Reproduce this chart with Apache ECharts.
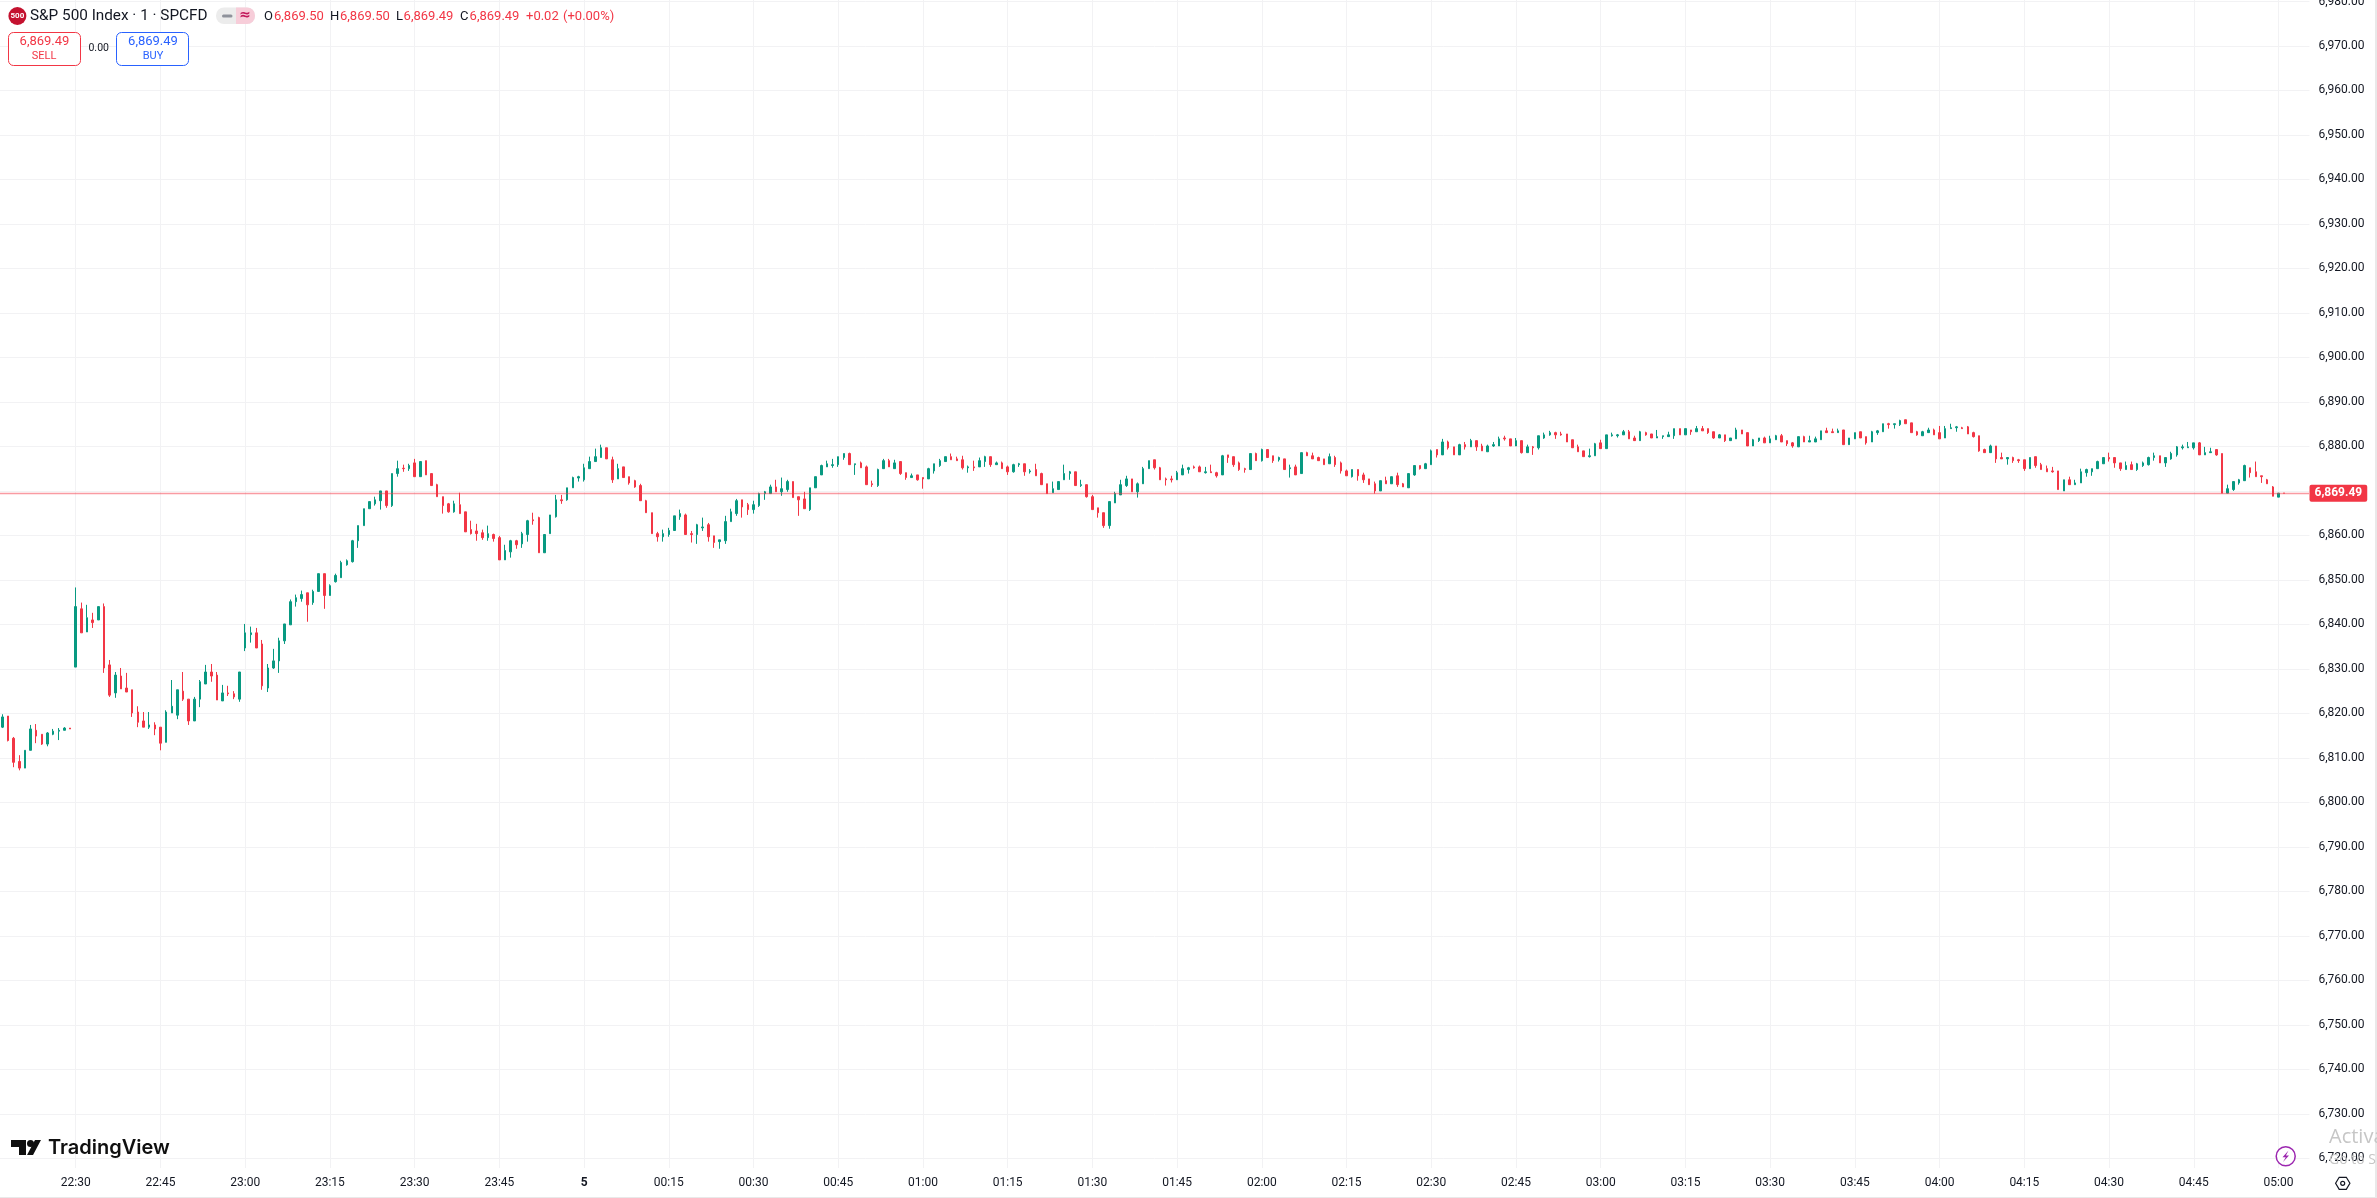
<!DOCTYPE html>
<html>
<head>
<meta charset="utf-8">
<title>S&amp;P 500 Index</title>
<style>html,body{margin:0;padding:0;background:#fff;overflow:hidden}#chart{width:2377px;height:1198px}</style>
<script src="https://cdn.jsdelivr.net/npm/echarts@6/dist/echarts.min.js"></script>
</head>
<body>
<div id="chart"></div>
<script>
const opens = [
6816.9,6819.4,6814.4,6809.2,6807.7,6811.7,6816.2,6815.3,6813.1,6815.3,
6816,6816.2,6816.7,6830.4,6843.5,6838.3,6841,6841,6844,6830.9,
6824.6,6828.4,6825.7,6825.3,6820.3,6818.3,6816.9,6817.4,6816.9,6813.5,
6820.1,6819.6,6825,6823.2,6818.3,6823.2,6826.6,6829.3,6828.6,6822.8,
6824.6,6824.4,6823.2,6834.7,6837.7,6838.1,6835.6,6825.7,6830.2,6831.8,
6836.3,6839.9,6845.1,6845.8,6847.1,6844.9,6847.4,6851.4,6846.5,6849.6,
6850.5,6853.4,6854.1,6858.8,6862.2,6866,6867.1,6867.8,6870,6866.7,
6873.9,6875.1,6875,6876.3,6873.2,6876.8,6873.9,6871.4,6868.7,6867.1,
6865.3,6866.9,6865.3,6861.3,6861,6860.6,6859.5,6860.2,6859.5,6854.5,
6856.3,6858.8,6858.1,6860.2,6863.5,6864,6856.1,6860.4,6864.2,6868,
6868,6870.7,6872.9,6872.5,6875,6876.6,6877.5,6879.7,6877,6872.7,
6875.4,6873.2,6872.3,6871.2,6867.8,6865.1,6860.4,6859.7,6860.2,6861.1,
6864.2,6864.6,6860.4,6860.2,6861.7,6862.4,6859.9,6858.6,6858.8,6863.1,
6864.9,6868,6866.9,6865.8,6866.7,6869.4,6869.4,6870.9,6869.8,6870.3,
6872.1,6868.7,6868.2,6865.8,6870.7,6873.6,6875.4,6875.7,6875.9,6877.5,
6878.4,6875.9,6876.3,6875.4,6871.6,6871.2,6875,6876.8,6875,6876.6,
6874.1,6873,6873.6,6873,6872.7,6874.5,6875.7,6876.6,6877.7,6877.2,
6877,6875.2,6875.4,6875.4,6876.6,6877.7,6875.9,6876.3,6875.4,6874.3,
6875.9,6876.1,6874.3,6874.8,6873.9,6871.6,6869.6,6870.3,6872.5,6873.9,
6874.3,6871.2,6871.4,6868.7,6866.2,6865.1,6862.2,6867.3,6869.1,6871.2,
6872.7,6869.8,6871.6,6875,6877,6875.2,6872.7,6872.7,6872.5,6873.6,
6874.8,6875.4,6875.4,6874.1,6874.3,6874.1,6873.6,6878.1,6877.7,6876.3,
6875,6874.8,6878.4,6876.8,6879.3,6877.9,6877,6877.2,6875,6875.4,
6873.9,6878.6,6877.9,6877.5,6877.2,6876.1,6877.5,6876.3,6874.5,6873.2,
6874.8,6873.6,6872.7,6871.6,6870,6872.3,6871.6,6873.4,6871.6,6870.7,
6873.6,6875.7,6875,6875.9,6879.3,6878.1,6881,6879.9,6878.1,6880.4,
6879.9,6881.3,6880.1,6878.8,6880.1,6880.1,6881.9,6881.7,6880.1,6881.3,
6878.6,6879.9,6879.7,6881.9,6882.6,6883.1,6882.8,6882.8,6881.5,6879.9,
6879,6877.7,6877.9,6880.8,6879.5,6882.4,6882.4,6882.6,6883.3,6881.9,
6881.3,6883.1,6882.8,6881.9,6882.2,6882.2,6882.4,6884,6882.6,6883.7,
6883.3,6884,6884,6883.3,6881.9,6882.6,6881.3,6881.7,6883.7,6883.1,
6880.1,6881.3,6881.9,6880.8,6881.5,6882.4,6881.3,6880.8,6879.9,6882.2,
6881,6881,6881.5,6883.5,6883.3,6883.1,6883.7,6880.4,6881.7,6883.3,
6882.2,6881,6883.1,6883.3,6885.1,6884.9,6884.9,6886,6885.3,6883.3,
6882.4,6883.1,6883.7,6883.1,6881.9,6884,6884.2,6884.2,6884.4,6883.1,
6882.4,6879.3,6878.6,6880.1,6877.5,6877.2,6877.5,6877,6877,6875,
6877.7,6875.9,6875,6874.5,6874.5,6870,6872.5,6871.4,6871.8,6874.1,
6874.3,6875,6876.1,6877.5,6877.5,6876.3,6874.8,6875.9,6874.8,6875.7,
6875.9,6877.5,6877.9,6876.3,6877.2,6878.1,6879.7,6879.7,6879.7,6880.8,
6878.1,6878.6,6879.3,6878.4,6869.5,6870.3,6871.8,6872.3,6875.2,6874.3,
6873.4,6872.5,6870.9,6868.6,6869.5];
const highs = [
6819.8,6819.4,6814.7,6810.6,6811.7,6817.4,6817.6,6815.3,6815.8,6816.5,
6816.7,6816.9,6816.7,6848.3,6844.9,6844.4,6842.6,6844,6844.7,6832,
6829.3,6830.2,6829.1,6825.3,6821.6,6820.3,6820.3,6818,6816.9,6820.7,
6827.5,6825.3,6829.3,6823.2,6823.7,6827.5,6830.9,6831.1,6829.3,6826.4,
6826.2,6825,6829.3,6840.1,6839.5,6839.2,6836.5,6831.1,6834.5,6837,
6840.1,6845.6,6846.7,6847.6,6847.1,6847.8,6851.4,6851.4,6849,6851.4,
6854.3,6854.6,6859,6862.2,6866,6867.6,6868.7,6870,6870,6873.9,
6876.8,6875.9,6876.1,6877.2,6876.6,6876.8,6873.9,6871.6,6868.7,6867.3,
6867.8,6869.6,6865.3,6863.3,6862.6,6861.3,6862.2,6860.4,6859.9,6857.9,
6859,6859,6860.8,6863.5,6865.1,6864.2,6860.2,6864.6,6869.1,6869.1,
6870.7,6873.2,6873.4,6876.1,6877.7,6879.5,6880.4,6879.7,6877.7,6876.1,
6875.4,6873.2,6872.5,6871.6,6868,6865.1,6860.8,6861.3,6861.7,6864.4,
6865.8,6864.9,6861,6862.6,6864,6862.8,6859.9,6859,6864.4,6866,
6868.2,6868,6867.3,6867.8,6869.6,6870,6871.4,6872.5,6873,6872.5,
6872.1,6868.7,6869.8,6870.7,6873.2,6875.9,6876.8,6877.2,6877.7,6878.4,
6878.6,6876.1,6876.6,6875.7,6872.3,6875,6877.2,6877.2,6877,6876.6,
6874.1,6873.9,6873.6,6873,6875.2,6876.1,6877.2,6877.7,6878.4,6877.7,
6877.9,6875.7,6876.8,6877.5,6877.9,6877.7,6876.6,6876.6,6875.7,6876.1,
6876.3,6876.1,6874.9,6876.1,6874.1,6871.6,6872.1,6872.1,6875.9,6874.5,
6874.3,6872.5,6871.4,6869.1,6866.2,6865.1,6867.6,6869.8,6872.5,6873.4,
6872.7,6871.9,6875.4,6876.8,6877,6875.4,6873,6873.4,6874.5,6875.9,
6875.4,6875.7,6875.7,6875.4,6875.9,6874.3,6878.1,6878.1,6877.7,6876.6,
6875.2,6878.4,6878.6,6879.5,6879.3,6877.9,6877.7,6877.2,6875.9,6875.9,
6878.6,6878.8,6878.6,6877.7,6877.2,6878.4,6877.9,6876.6,6874.8,6874.8,
6874.8,6874.1,6872.7,6872.1,6872.3,6873.2,6873.2,6874.1,6871.8,6873.9,
6875.7,6875.7,6876.3,6879.3,6879.3,6881.7,6881.3,6879.9,6880.6,6881,
6881.7,6881.3,6880.6,6880.4,6881,6882.2,6882.4,6881.7,6881.9,6881.3,
6880.4,6880.1,6882.4,6883.1,6883.5,6883.3,6883.3,6882.8,6881.5,6880.4,
6879,6879.5,6880.8,6881.5,6882.6,6883.1,6882.8,6883.7,6883.7,6882.4,
6883.5,6883.3,6882.8,6883.7,6882.4,6883.3,6884,6884,6884,6883.7,
6884.6,6884.6,6884,6883.3,6882.8,6882.6,6881.9,6884.2,6883.7,6883.1,
6881.7,6881.9,6882.2,6882.4,6882.6,6882.8,6881.3,6881,6882.2,6882.4,
6882.4,6882.2,6883.5,6884.2,6884,6884,6883.7,6881.9,6883.1,6883.3,
6882.2,6883.5,6883.7,6885.1,6885.3,6885.1,6886,6886,6885.3,6883.5,
6883.5,6884.2,6884,6884.6,6884.6,6885.1,6884.6,6884.4,6884.6,6883.3,
6882.4,6879.5,6880.4,6880.1,6878.6,6877.5,6877.7,6877.2,6877,6877.5,
6877.7,6876.3,6875.7,6875.4,6874.5,6872.5,6873.2,6872.5,6875,6875,
6875,6876.8,6877.5,6878.6,6877.5,6876.3,6876.6,6876.6,6876.3,6876.6,
6877.7,6878.6,6877.9,6877.5,6878.8,6880.1,6880.4,6881,6880.8,6881,
6879.9,6879.7,6879.3,6878.4,6871.4,6872.1,6872.7,6875.9,6875.2,6876.6,
6873.4,6872.7,6871.1,6869.5,6869.5];
const lows = [
6816.7,6813.7,6807.9,6807.2,6807.7,6811.7,6813.3,6812.9,6812.6,6815.1,
6814,6816.2,6816.5,6830.4,6838.1,6838.3,6839.2,6841,6829.1,6823.7,
6823.5,6825.5,6824.8,6819.2,6816.9,6816.9,6816.5,6815.1,6811.7,6813.5,
6820.1,6818.7,6822.8,6817.4,6818.3,6821.4,6826.6,6827.1,6823,6822.8,
6823.9,6823.2,6822.6,6834,6835.9,6834.7,6825.3,6824.8,6830,6829.1,
6835.6,6839.9,6844,6845.1,6840.6,6844.4,6847.4,6843.5,6846.5,6849.4,
6850.5,6853.2,6853.9,6857.2,6862.2,6866,6866.7,6865.8,6866.2,6866.4,
6873.2,6874.3,6874.5,6873.2,6873.2,6873.6,6871.2,6868.7,6864.9,6865.1,
6865.1,6864.9,6860.8,6860.2,6858.8,6859,6858.8,6858.6,6854.5,6854.5,
6855,6857,6857.2,6858.6,6862.4,6856.1,6856.1,6860.4,6864,6867.1,
6867.8,6870.7,6872.1,6872.1,6875,6876.6,6877.5,6877.2,6871.8,6872.7,
6873,6871.4,6870.7,6867.8,6865.1,6860.4,6858.6,6858.6,6859.7,6861.1,
6863.5,6860.2,6858.4,6858.1,6861,6858.6,6857.2,6857,6858.1,6863.1,
6864.4,6864,6864.6,6864.9,6866.4,6868,6869.4,6869.8,6868.9,6869.8,
6868.5,6864.4,6866,6865.5,6870.7,6873.6,6875.4,6875.2,6875.4,6877,
6875.9,6873.6,6875.2,6871.4,6870.9,6870.9,6875,6875.4,6875,6873.6,
6872.5,6873,6872.3,6870.5,6872.7,6873.9,6875.4,6876.6,6877,6876.8,
6874.8,6874.1,6874.5,6875.4,6875.4,6875.4,6875.9,6875,6873.6,6874.1,
6875.4,6873.4,6873.9,6873.4,6871.4,6869.4,6869.6,6870.3,6872.5,6872.5,
6871.2,6870.9,6868.5,6865.8,6864,6861.7,6861.5,6867.3,6869.1,6870.9,
6869.8,6868.5,6871.6,6875,6874.8,6872.5,6871.2,6871.9,6872.5,6873.6,
6873.9,6875,6874.3,6873.9,6874.1,6873,6873.6,6876.3,6875.4,6874.5,
6874.1,6874.8,6876.8,6876.6,6877.5,6876.3,6876.6,6874.8,6873,6873.6,
6873.9,6877.9,6877.2,6876.8,6875.9,6876.1,6875.4,6873.9,6873.4,6873,
6872.3,6871.8,6871.4,6869.4,6870,6871.6,6871.6,6870.9,6870.9,6870.7,
6873.4,6874.8,6875,6875.9,6877.5,6878.1,6879.3,6878.1,6878.1,6879.3,
6879.9,6879,6879,6878.8,6879.9,6880.1,6881.3,6880.1,6880.1,6878.4,
6878.6,6878.1,6879.3,6881.7,6882.4,6881.7,6882.4,6881,6879.7,6878.8,
6877.7,6877.5,6877.9,6879.5,6879.5,6882.2,6882,6882.6,6881.7,6881.3,
6881.3,6882.4,6881.9,6881.9,6881.7,6882.2,6881.7,6882.6,6882.6,6882.6,
6883.3,6883.5,6882.8,6881.7,6881.9,6881,6881.3,6881.7,6882.8,6880.1,
6880.1,6881,6880.8,6880.8,6881.5,6881,6880.1,6879.7,6879.9,6881,
6881,6881,6881.5,6883.1,6883.1,6883.1,6880.4,6880.4,6881.7,6881.9,
6880.4,6881,6882.6,6883.3,6884,6884,6884.6,6885.1,6883.1,6882.4,
6882.4,6883.1,6882.6,6881.7,6881.9,6884,6883.3,6884,6882.8,6882,
6878.8,6878.6,6878.6,6876.3,6877.2,6875.9,6876.3,6876.3,6874.5,6875,
6875.2,6874.8,6874.3,6874.1,6870.3,6870,6871.4,6871.4,6871.8,6873.2,
6873.4,6875,6876.1,6876.6,6875.2,6874.5,6874.8,6874.8,6874.5,6875.4,
6875.7,6876.8,6876.3,6875.4,6877,6877.7,6879.3,6879.7,6879.3,6878.1,
6878.1,6878.6,6877.9,6869.5,6869.5,6870,6871.4,6872.3,6873,6873.2,
6871.8,6871.6,6868.8,6868.6,6869.49];
const closes = [
6819.2,6813.9,6809,6807.7,6811.7,6816.5,6814.9,6813.1,6815.6,6816,
6816.2,6816.7,6816.5,6844,6838.1,6841.5,6840.4,6844,6830.2,6824.1,
6828.6,6825.5,6824.8,6820.1,6818,6816.9,6817.4,6816.5,6813.3,6820.3,
6821.6,6825.3,6823.2,6818.3,6823.2,6827.1,6829.3,6828.4,6823,6824.6,
6824.4,6823.7,6829.3,6838.1,6838.1,6834.7,6826.2,6830.2,6831.8,6836.3,
6840.1,6845.1,6846,6846.7,6844.4,6847.4,6851.4,6846.5,6848.7,6851,
6853.9,6854.3,6858.8,6862.2,6866,6867.6,6868,6870,6866.7,6873.9,
6875,6875,6875.7,6873.2,6876.6,6873.6,6871.2,6868.7,6866.7,6865.3,
6867.1,6864.9,6860.8,6860.4,6860.4,6859.5,6860.4,6859.3,6854.5,6856.6,
6858.8,6857.9,6860.4,6863.3,6863.3,6856.1,6860.2,6864.6,6868,6867.8,
6870.7,6873,6873.2,6875.2,6876.6,6877.7,6879.7,6877.2,6872.5,6875,
6873,6871.8,6870.9,6867.8,6865.1,6860.4,6859.7,6860.4,6861.1,6864.4,
6864.9,6860.2,6860.2,6862.4,6861.9,6859.7,6858.4,6859,6863.1,6865.3,
6867.8,6866.4,6865.8,6866.9,6869.4,6869.8,6870.9,6869.8,6870.5,6872.1,
6868.5,6868,6866,6870.7,6873.2,6875.7,6876.1,6875.9,6877.7,6878.4,
6875.9,6876.1,6875.2,6871.4,6871.4,6874.8,6876.8,6875.4,6876.3,6873.9,
6873,6873.4,6872.5,6872.7,6875,6876.1,6876.8,6877.7,6877,6876.8,
6875.2,6875.4,6875.2,6876.8,6877.7,6875.9,6876.3,6875,6874.3,6875.9,
6876.1,6874.3,6874.5,6873.4,6871.4,6869.4,6870.5,6872.1,6873.9,6874.3,
6871.2,6871.4,6868.7,6865.8,6865.1,6862.2,6867.6,6869.4,6871.4,6872.7,
6869.8,6871.6,6875,6876.8,6875.2,6872.5,6872.5,6872.5,6874.1,6875,
6875.2,6875.2,6874.3,6874.3,6874.1,6873.4,6877.9,6877.5,6875.9,6874.8,
6874.8,6878.4,6876.8,6879.3,6877.5,6876.8,6877.5,6874.8,6875.2,6873.6,
6878.6,6877.9,6877.2,6876.8,6875.9,6877.7,6875.9,6874.5,6873.4,6874.8,
6873.4,6872.5,6871.4,6870,6872.3,6871.6,6873.2,6871.4,6870.9,6873.9,
6875.7,6875,6876.1,6879,6878.1,6881,6879.7,6878.1,6880.4,6879.9,
6881.3,6879.9,6879,6880.1,6880.4,6881.7,6881.7,6880.1,6881.3,6878.6,
6879.9,6879.7,6882.4,6882.6,6883.1,6882.6,6882.6,6881,6879.7,6878.8,
6877.7,6877.9,6880.6,6879.5,6882.6,6882.6,6882.6,6883.3,6881.7,6881.3,
6883.3,6882.6,6881.9,6882.2,6882.4,6882.6,6884,6882.6,6884,6883.3,
6884,6883.5,6883.1,6881.9,6882.6,6881.3,6881.9,6883.7,6882.8,6880.1,
6881.5,6881.9,6880.8,6881.7,6882.4,6881,6880.6,6880.1,6882.2,6881,
6881.3,6881.7,6883.5,6883.1,6883.1,6883.5,6880.4,6881.9,6883.1,6881.9,
6880.8,6883.3,6883.5,6885.1,6884.9,6885.1,6885.8,6885.1,6883.1,6882.6,
6883.3,6883.7,6882.6,6881.7,6884,6884.2,6884.4,6884,6882.8,6882.2,
6879,6878.6,6880.1,6877.2,6877.2,6877.5,6876.8,6876.8,6875,6877.5,
6875.7,6874.8,6874.3,6874.3,6870.3,6872.5,6871.4,6871.8,6874.3,6874.8,
6875,6876.6,6877.5,6877.2,6876.3,6875,6875.7,6874.8,6876.1,6876.3,
6877.5,6877.9,6876.3,6877.5,6878.4,6879.9,6879.9,6879.9,6880.8,6878.1,
6878.6,6878.8,6878.1,6869.5,6870.5,6872.1,6872.5,6875.7,6874.1,6873.2,
6873.2,6871.6,6868.8,6869.5,6869.49];

const lastPrice = 6869.49;
const firstMinute = 22 * 60 + 17;
const categoryCount = 409;
const tickStart = 13, tickEvery = 15;
const upColor = '#089981', downColor = '#F23645';
const gridColor = '#f2f2f4', textColor = '#131722';
const axisFont = 'Roboto, sans-serif', headFont = 'Roboto, sans-serif';

const pad = n => String(n).padStart(2, '0');
const categories = [];
for (let i = 0; i < categoryCount; i++) {
  const m = (firstMinute + i) % 1440;
  categories.push(pad(Math.floor(m / 60)) + ':' + pad(m % 60));
}
const candles = opens.map((o, i) => [o, closes[i], lows[i], highs[i]]);
const isTick = idx => idx >= tickStart && (idx - tickStart) % tickEvery === 0;

const txt = (text, x, y, fill, size, opt = {}) => ({
  type: 'text', z: 104, silent: true,
  style: Object.assign({ text, x, y, fill, fontSize: size, fontFamily: headFont, align: 'left', verticalAlign: 'middle' }, opt)
});
const graphics = [
  { type: 'circle', z: 100, silent: true, shape: { cx: 17.4, cy: 16, r: 9 }, style: { fill: '#c4122f' } },
  txt('500', 17.4, 16.3, '#fff', 8, { align: 'center', fontWeight: 'bold' }),
  txt('S&P 500 Index · 1 · SPCFD', 30, 16.5, textColor, 15.3),
  { type: 'rect', z: 100, silent: true, shape: { x: 216, y: 7.5, width: 39, height: 16.5, r: 8 }, style: { fill: '#ececec' } },
  { type: 'rect', z: 101, silent: true, shape: { x: 236, y: 7.5, width: 19, height: 16.5, r: [0, 8, 8, 0] }, style: { fill: '#f7cdd9' } },
  { type: 'rect', z: 102, silent: true, shape: { x: 222, y: 14.5, width: 10.5, height: 3, r: 1.5 }, style: { fill: '#8f929b' } },
  txt('≈', 245, 15.5, '#c2185b', 14, { align: 'center', fontFamily: 'DejaVu Sans', fontWeight: 'bold' }),
  txt('O', 264, 16.5, textColor, 13),
  txt('6,869.50', 274, 16.5, downColor, 13),
  txt('H', 330, 16.5, textColor, 13),
  txt('6,869.50', 340, 16.5, downColor, 13),
  txt('L', 396, 16.5, textColor, 13),
  txt('6,869.49', 403.6, 16.5, downColor, 13),
  txt('C', 460, 16.5, textColor, 13),
  txt('6,869.49', 469.6, 16.5, downColor, 13),
  txt('+0.02', 526, 16.5, downColor, 13),
  txt('(+0.00%)', 563, 16.5, downColor, 13),
  { type: 'rect', z: 100, silent: true, shape: { x: 8.5, y: 32.5, width: 72, height: 33, r: 5 }, style: { fill: '#fff', stroke: downColor, lineWidth: 1 } },
  txt('6,869.49', 44.5, 42, downColor, 13, { align: 'center' }),
  txt('SELL', 44, 56, downColor, 11, { align: 'center' }),
  txt('0.00', 98.7, 48.5, textColor, 10.5, { align: 'center' }),
  { type: 'rect', z: 100, silent: true, shape: { x: 116.5, y: 32.5, width: 72, height: 33, r: 5 }, style: { fill: '#fff', stroke: '#2962ff', lineWidth: 1 } },
  txt('6,869.49', 153, 42, '#2962ff', 13, { align: 'center' }),
  txt('BUY', 153, 56, '#2962ff', 11, { align: 'center' }),
  { type: 'polygon', z: 100, silent: true, shape: { points: [[11, 1140], [26, 1140], [26, 1155], [19, 1155], [19, 1147], [11, 1147]] }, style: { fill: '#0f0f0f' } },
  { type: 'circle', z: 100, silent: true, shape: { cx: 30.5, cy: 1143.5, r: 3.5 }, style: { fill: '#0f0f0f' } },
  { type: 'polygon', z: 100, silent: true, shape: { points: [[35, 1140], [41, 1140], [33, 1155], [27, 1155]] }, style: { fill: '#0f0f0f' } },
  txt('TradingView', 48, 1148, '#0f0f0f', 20, { fontFamily: 'Inter, sans-serif', fontWeight: 600 }),
  { type: 'circle', z: 100, silent: true, shape: { cx: 2285.7, cy: 1156.3, r: 9.5 }, style: { fill: '#fff', stroke: '#9c27b0', lineWidth: 1.5 } },
  { type: 'polygon', z: 101, silent: true, shape: { points: [[2288.5, 1150.5], [2282.5, 1157.3], [2285.7, 1157.3], [2283, 1162], [2289, 1155.5], [2285.9, 1155.5]] }, style: { fill: '#9c27b0' } },
  { type: 'polygon', z: 100, silent: true, shape: { points: [[2335.6, 1183.3], [2339.2, 1177.3], [2346.3, 1177.3], [2349.9, 1183.3], [2346.3, 1189.3], [2339.2, 1189.3]] }, style: { fill: 'none', stroke: textColor, lineWidth: 1.2 } },
  { type: 'circle', z: 100, silent: true, shape: { cx: 2342.7, cy: 1183.3, r: 2 }, style: { fill: 'none', stroke: textColor, lineWidth: 1.2 } },
  txt('Activa', 2329, 1137.5, '#c6c6c6', 20, { fontFamily: '"Open Sans", sans-serif' }),
  txt('Go to S', 2329, 1160.5, '#c6c6c6', 14, { fontFamily: '"Open Sans", sans-serif' }),
  { type: 'rect', z: 103, silent: true, shape: { x: 2375, y: 0, width: 2, height: 1198 }, style: { fill: '#e9e9e9' } },
  { type: 'rect', z: 103, silent: true, shape: { x: 0, y: 1197, width: 2377, height: 1 }, style: { fill: '#e9e9e9' } }
];

const chart = echarts.init(document.getElementById('chart'), null, { renderer: 'canvas', width: 2377, height: 1198 });
chart.setOption({
  animation: false,
  backgroundColor: '#ffffff',
  grid: [
    { left: -0.5, width: 2310, top: 1.5, height: 1156.8, containLabel: false, outerBoundsMode: 'none' },
    { left: 2.324, width: 2304.4, top: 0, height: 1168, containLabel: false, outerBoundsMode: 'none' }
  ],
  xAxis: [
    { type: 'category', gridIndex: 0, data: categories, show: false, boundaryGap: true },
    {
      type: 'category', gridIndex: 1, data: categories, boundaryGap: false,
      axisLine: { show: false }, axisTick: { show: false },
      splitLine: { show: true, interval: isTick, lineStyle: { color: gridColor, width: 1 } },
      axisLabel: {
        show: true, interval: isTick, margin: 9, color: textColor, fontSize: 12, fontFamily: axisFont,
        formatter: v => v === '00:00' ? '{b|5}' : v,
        rich: { b: { fontWeight: 'bold', fontSize: 12, color: textColor, fontFamily: axisFont } }
      }
    }
  ],
  yAxis: [
    {
      type: 'value', gridIndex: 0, position: 'right', min: 6720, max: 6980, interval: 10, scale: true,
      axisLine: { show: false }, axisTick: { show: false },
      splitLine: { show: true, lineStyle: { color: gridColor, width: 1 } },
      axisLabel: {
        margin: 9, color: textColor, fontSize: 12, fontFamily: axisFont, showMinLabel: true, showMaxLabel: true,
        formatter: v => v.toLocaleString('en-US', { minimumFractionDigits: 2, maximumFractionDigits: 2 })
      }
    },
    { type: 'value', gridIndex: 1, show: false, min: 0, max: 1 }
  ],
  series: [{
    type: 'candlestick', xAxisIndex: 0, yAxisIndex: 0,
    data: candles,
    barWidth: 2,
    large: false, progressive: 0,
    itemStyle: { color: upColor, color0: downColor, borderColor: upColor, borderColor0: downColor, borderWidth: 1 },
    markLine: {
      silent: true, symbol: ['none', 'none'], animation: false,
      lineStyle: { type: [1, 1], color: downColor, width: 1.3 },
      label: {
        show: true, position: 'end', distance: 0,
        formatter: () => lastPrice.toLocaleString('en-US', { minimumFractionDigits: 2 }),
        color: '#fff', backgroundColor: downColor, fontSize: 12, fontWeight: 'bold', fontFamily: axisFont,
        lineHeight: 12, padding: [3, 5, 2, 5], borderRadius: 2
      },
      data: [{ yAxis: lastPrice }]
    }
  }],
  graphic: { elements: graphics }
});
</script>
</body>
</html>
